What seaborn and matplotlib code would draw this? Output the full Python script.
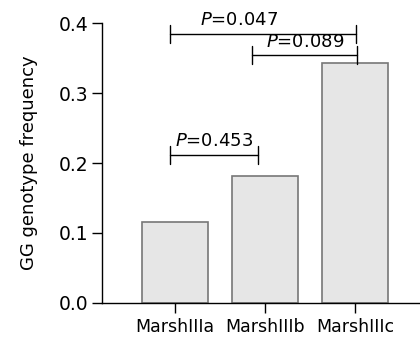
import matplotlib
matplotlib.use("Agg")
import matplotlib.pyplot as plt
import seaborn as sns
import pandas as pd

# data
groups = ["MarshIIIa", "MarshIIIb", "MarshIIIc"]
freq = [0.116, 0.182, 0.343]

# comparisons: (left bar, right bar, line height, p-value)
pairs = [(0, 2), (1, 2), (0, 1)]
line_y = [0.385, 0.354, 0.212]
p_vals = ["0.047", "0.089", "0.453"]

sns.set_style("ticks")
plt.rcParams["font.family"] = ["DejaVu Sans"]
plt.rcParams["mathtext.fontset"] = "dejavusans"
plt.rcParams["text.color"] = "black"
plt.rcParams["axes.labelcolor"] = "black"

df = pd.DataFrame({"group": groups, "freq": freq})

fig = plt.figure(figsize=(4.2, 3.4), dpi=100)
ax = fig.add_axes([0.243, 0.109, 0.757, 0.823])
sns.barplot(data=df, x="group", y="freq", color="#e6e6e6", saturation=1,
            edgecolor="#777777", linewidth=1.2, width=0.74, ax=ax)

ax.set_xlim(-0.81, 2.72)
ax.set_ylim(0, 0.4)
ax.set_yticks([0.0, 0.1, 0.2, 0.3, 0.4])
ax.set_yticklabels(["0.0", "0.1", "0.2", "0.3", "0.4"])
ax.set_xlabel("")
ax.set_ylabel("GG genotype frequency", fontsize=13)
ax.yaxis.set_label_coords(-0.20, 0.5)
ax.tick_params(axis="both", direction="out", length=7, width=1, colors="black")
ax.tick_params(axis="y", labelsize=13.5, pad=3)
ax.tick_params(axis="x", labelsize=12.5, pad=4)
sns.despine(ax=ax, top=True, right=True)
ax.spines["left"].set_linewidth(1)
ax.spines["bottom"].set_linewidth(1)
ax.spines["left"].set_color("black")
ax.spines["bottom"].set_color("black")

# bracket end offsets and label nudges (layout only)
left_off = [-0.06, -0.14, -0.06]
right_off = [0.01, 0.02, -0.08]
text_shift = [-0.27, 0.0, 0.0]
for (i, j), h, p, lo, ro, dx in zip(pairs, line_y, p_vals, left_off, right_off, text_shift):
    x0, x1 = i + lo, j + ro
    ax.plot([x0, x1], [h, h], color="black", lw=1)
    ax.plot([x0, x0], [h - 0.013, h + 0.013], color="black", lw=1)
    ax.plot([x1, x1], [h - 0.013, h + 0.013], color="black", lw=1)
    ax.text((x0 + x1) / 2 + dx, h + 0.006, "$P$=" + p, ha="center", va="bottom", fontsize=13)

fig.savefig("out.png", dpi=100)
